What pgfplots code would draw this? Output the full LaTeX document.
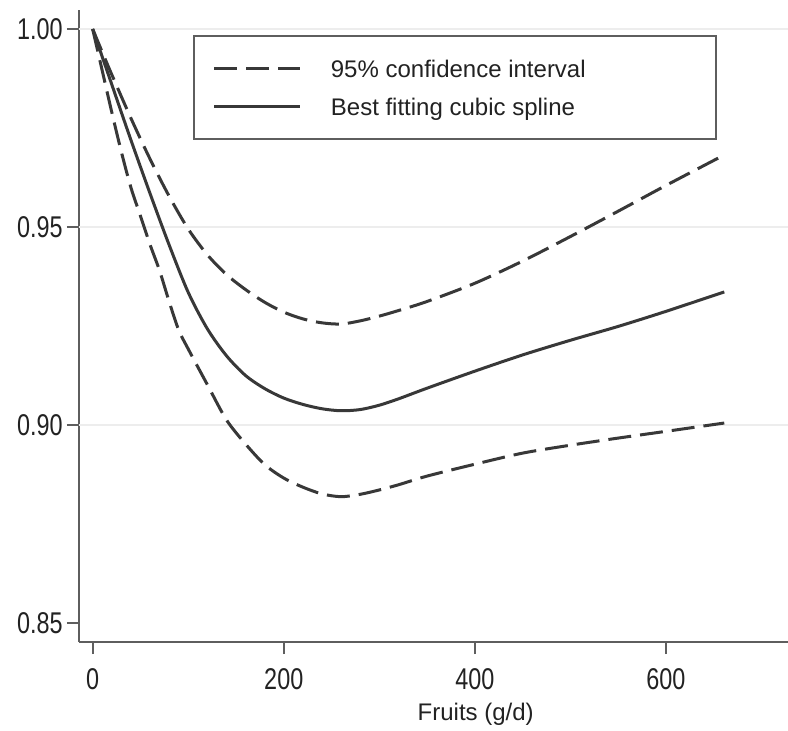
\documentclass[border=0pt]{standalone}
\usepackage{fontspec}
\setmainfont{Liberation Sans}
\newfontfamily\tickfont[FakeStretch=0.78]{Liberation Sans}
\usepackage{pgfplots}
\usepackage{pgfplotstable}
\pgfplotsset{compat=1.18}
\definecolor{curve}{HTML}{383838}
\definecolor{axisgray}{HTML}{5E5E5E}
\definecolor{gridgray}{HTML}{EDEDED}
\definecolor{txt}{HTML}{222222}

\pgfplotstableread{
x y
0 1.0000
10 0.9942
20 0.9885
40 0.9775
60 0.9672
80 0.9578
100 0.9495
120 0.9430
140 0.9380
160 0.9342
180 0.9310
200 0.9285
220 0.9268
240 0.9258
260 0.9255
280 0.9263
300 0.9275
320 0.9289
350 0.9312
400 0.9358
450 0.9414
500 0.9476
550 0.9540
600 0.9605
661 0.9682
}\uppertab

\pgfplotstableread{
x y
0 1.0000
10 0.9930
20 0.9860
40 0.9720
60 0.9585
80 0.9455
100 0.9335
120 0.9243
140 0.9175
160 0.9125
180 0.9092
200 0.9068
220 0.9052
240 0.9041
260 0.9036
280 0.9039
300 0.9050
320 0.9066
350 0.9093
400 0.9136
450 0.9177
500 0.9214
550 0.9249
600 0.9287
661 0.9336
}\splinetab

\pgfplotstableread{
x y
0 1.0000
10 0.9895
20 0.9790
30 0.9690
40 0.9600
50 0.9528
60 0.9456
70 0.9390
80 0.9312
90 0.9240
100 0.9192
120 0.9102
140 0.9013
160 0.8952
180 0.8900
200 0.8866
220 0.8843
240 0.8826
260 0.8819
280 0.8825
300 0.8836
320 0.8849
350 0.8871
400 0.8901
450 0.8929
500 0.8949
550 0.8967
600 0.8984
661 0.9005
}\lowertab

\begin{document}
\begin{tikzpicture}
\useasboundingbox (-39.5pt,-44pt) rectangle (354.5pt,321pt);
\begin{axis}[
  scale only axis, width=354.5pt, height=316pt,
  xmin=-14.3, xmax=727.7, ymin=0.8452, ymax=1.0048,
  axis x line*=bottom, axis y line*=left,
  axis line style={axisgray, line width=1.2pt},
  every tick/.style={axisgray, line width=1pt},
  tick align=outside, major tick length=6pt,
  xtick={0,200,400,600}, xticklabels={0,200,400,600},
  ytick={0.85,0.90,0.95,1.00}, yticklabels={0.85,0.90,0.95,1.00},
  ticklabel style={font=\tickfont\fontsize{15}{17}\selectfont, text=txt, inner sep=0pt},
  yticklabel style={anchor=east, xshift=-2pt},
  xticklabel style={anchor=north, yshift=-7pt},
  extra y ticks={0.90,0.95,1.00}, extra y tick labels={},
  extra y tick style={ymajorgrids=true, major tick length=0pt},
  major grid style={gridgray, line width=1pt},
  xlabel={Fruits (g/d)},
  xlabel style={font=\fontsize{12}{14}\selectfont, text=txt, at={(rel axis cs:0.5595,0)}, anchor=base, yshift=-39pt, inner sep=0pt},
  legend cell align=left,
  legend image code/.code={\path[draw=none,fill=none] (0pt,-6.3pt) rectangle (43pt,6.3pt); \draw[#1] (0pt,0pt) -- (43pt,0pt);},
  legend style={at={(rel axis cs:0.1608,0.9604)}, anchor=north west, draw=axisgray, line width=0.9pt, fill=white,
    inner xsep=9.5pt, inner ysep=9.95pt, row sep=6.4pt, column sep=14.5pt,
    font=\fontsize{12}{14}\selectfont, text=txt,
    nodes={inner sep=0pt, text height=10.6pt, text depth=2pt}},
]
\addplot[curve, line width=1.5pt, dash pattern=on 11.5pt off 4.5pt, smooth] table[x=x,y=y] {\uppertab};
\addlegendentry{\makebox[183pt][l]{95\% confidence interval}}
\addplot[curve, line width=1.5pt, dash pattern=on 11.5pt off 4.5pt, smooth, forget plot] table[x=x,y=y] {\lowertab};
\addplot[curve, line width=1.5pt, smooth] table[x=x,y=y] {\splinetab};
\addlegendentry{\makebox[183pt][l]{Best fitting cubic spline}}
\end{axis}
\end{tikzpicture}
\end{document}
